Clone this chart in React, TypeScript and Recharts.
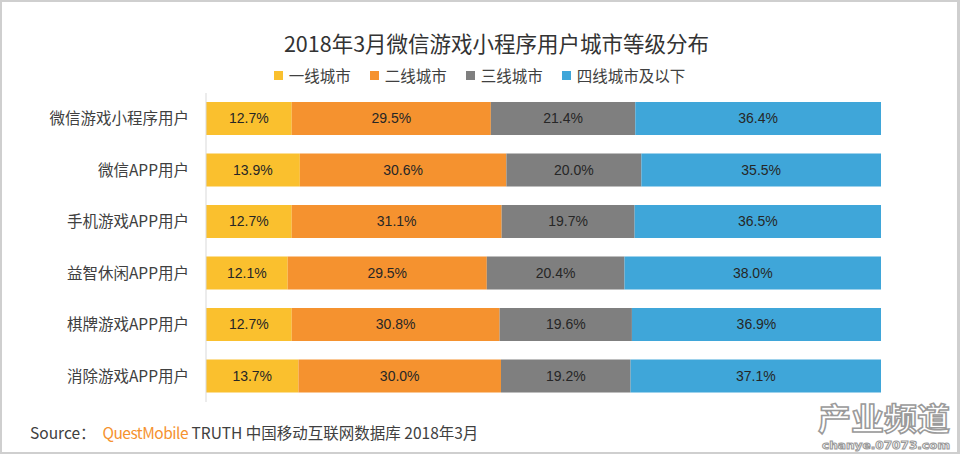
import React from "react";
import { BarChart, Bar, XAxis, YAxis, LabelList } from "recharts";

const categories = [
  "微信游戏小程序用户",
  "微信APP用户",
  "手机游戏APP用户",
  "益智休闲APP用户",
  "棋牌游戏APP用户",
  "消除游戏APP用户",
];
const tier1 = [12.7, 13.9, 12.7, 12.1, 12.7, 13.7];
const tier2 = [29.5, 30.6, 31.1, 29.5, 30.8, 30.0];
const tier3 = [21.4, 20.0, 19.7, 20.4, 19.6, 19.2];
const tier4 = [36.4, 35.5, 36.5, 38.0, 36.9, 37.1];
const seriesNames = ["一线城市", "二线城市", "三线城市", "四线城市及以下"];
const seriesKeys = ["t1", "t2", "t3", "t4"];
const colors = ["#FAC02E", "#F5922F", "#7F7F7F", "#3FA6D9"];

const data = categories.map((name, i) => ({
  name,
  t1: tier1[i],
  t2: tier2[i],
  t3: tier3[i],
  t4: tier4[i],
}));

const FONT = '"Noto Sans CJK SC", "Microsoft YaHei", sans-serif';
const NUM_FONT = '"Liberation Sans", Arial, sans-serif';

function LegendRow() {
  return (
    <div style={{ display: "flex", justifyContent: "center", gap: 19, fontSize: 15.5, color: "#404040", fontFamily: FONT, lineHeight: "20px" }}>
      {seriesNames.map((n, i) => (
        <div key={n} style={{ display: "flex", alignItems: "center" }}>
          <span style={{ display: "inline-block", width: 9, height: 9, background: colors[i], marginRight: 6 }} />
          <span>{n}</span>
        </div>
      ))}
    </div>
  );
}

export default function App() {
  return (
    <div
      style={{
        position: "absolute",
        left: 0,
        top: 0,
        width: 960,
        height: 454,
        background: "#fff",
        fontFamily: FONT,
        boxSizing: "border-box",
        borderTop: "2px solid #cfcfcf",
        borderLeft: "2px solid #cfcfcf",
        borderRight: "3px solid #cfcfcf",
        borderBottom: "2px solid #cfcfcf",
        overflow: "hidden",
      }}
    >
      <div style={{ position: "absolute", left: 34, right: 0, top: 27, textAlign: "center", fontSize: 21.5, color: "#333", lineHeight: "28px" }}>
        2018年3月微信游戏小程序用户城市等级分布
      </div>
      <div style={{ position: "absolute", left: 0, right: 0, top: 63 }}>
        <LegendRow />
      </div>
      <div style={{ position: "absolute", left: -2, top: -2 }}>
        <BarChart
          width={960}
          height={454}
          data={data}
          layout="vertical"
          barSize={33}
          margin={{ top: 93, right: 79, bottom: 52, left: 0 }}
        >
          <XAxis type="number" domain={[0, 100]} hide />
          <YAxis
            type="category"
            dataKey="name"
            width={206}
            axisLine={{ stroke: "#d9d9d9" }}
            tickLine={false}
            tickSize={0}
            tickMargin={17}
            tick={{ fill: "#404040", fontSize: 15.5, fontFamily: FONT }}
          />
          {seriesKeys.map((k, i) => (
            <Bar key={k} dataKey={k} name={seriesNames[i]} stackId="a" fill={colors[i]} isAnimationActive={false}>
              <LabelList
                dataKey={k}
                position="center"
                formatter={(v: number) => v.toFixed(1) + "%"}
                style={{ fill: "#262626", fontSize: 14, fontFamily: NUM_FONT }}
              />
            </Bar>
          ))}
        </BarChart>
      </div>
      <div style={{ position: "absolute", left: 28, top: 419, fontSize: 15.5, color: "#404040", lineHeight: "22px" }}>
        Source：&nbsp;&nbsp;<span style={{ color: "#F5922F", letterSpacing: -0.5 }}>QuestMobile</span> TRUTH 中国移动互联网数据库 2018年3月
      </div>
      <svg width={142} height={68} style={{ position: "absolute", left: 812, top: 384 }}>
        <text x={4} y={44} fontSize={31} fontWeight={700} fill="#fff" stroke="#9a9a9a" strokeWidth={1.5} fontFamily={FONT} textLength={132} lengthAdjust="spacingAndGlyphs">
          产业频道
        </text>
        <text x={8} y={63} fontSize={11} fontWeight={700} fill="#fff" stroke="#9a9a9a" strokeWidth={1} fontFamily="DejaVu Sans" textLength={128} lengthAdjust="spacingAndGlyphs">
          chanye.07073.com
        </text>
      </svg>
    </div>
  );
}
